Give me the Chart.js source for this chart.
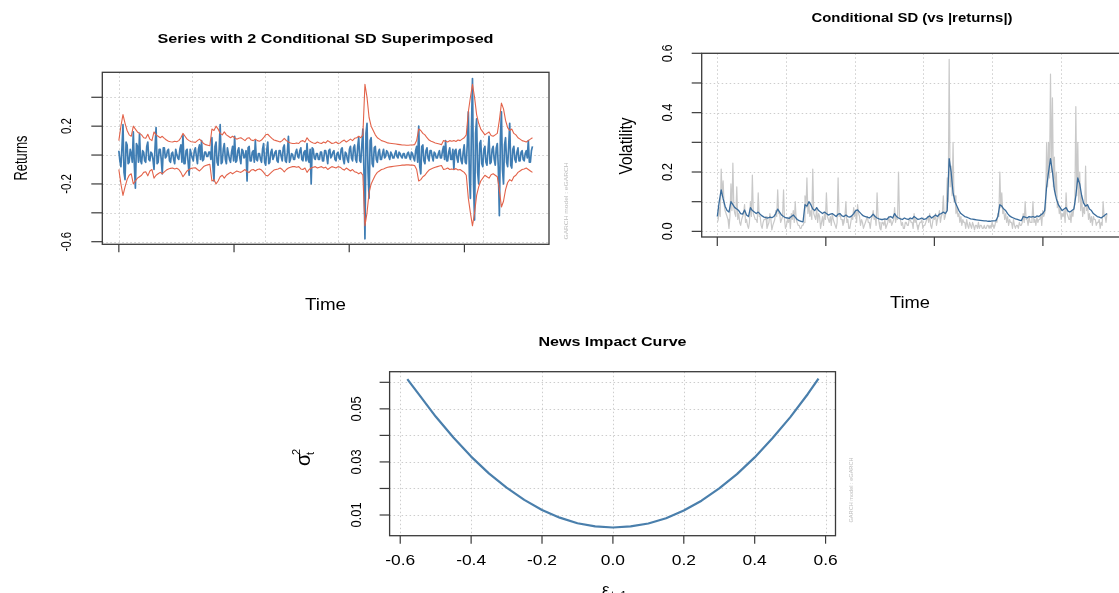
<!DOCTYPE html>
<html>
<head>
<meta charset="utf-8">
<title>eGARCH fit diagnostics</title>
<script src="https://cdn.jsdelivr.net/npm/chart.js@4.4.1/dist/chart.umd.min.js"></script>
<style>
  html, body { margin: 0; padding: 0; background: #fff; overflow: hidden; }
  body { width: 1119px; height: 593px; position: relative; }
  canvas { position: absolute; left: 0; top: 0; }
</style>
</head>
<body>
<canvas id="seriesChart" width="1130" height="593"></canvas>
<canvas id="volChart" width="1130" height="593"></canvas>
<canvas id="nicChart" width="1130" height="593"></canvas>
<script>
const FONT = '"Liberation Sans", Arial, Helvetica, sans-serif';

// Conditional sigma of the fitted eGARCH, sampled every second observation
const sigma = [
    0.05, 0.10, 0.14, 0.11, 0.085, 0.07, 0.065, 0.10, 0.09, 0.08,
    0.075, 0.07, 0.06, 0.058, 0.072, 0.055, 0.05, 0.08, 0.07, 0.065,
    0.06, 0.065, 0.058, 0.052, 0.048, 0.046, 0.045, 0.048, 0.046, 0.05,
    0.06, 0.075, 0.065, 0.055, 0.05, 0.046, 0.045, 0.044, 0.05, 0.055,
    0.048, 0.04, 0.036, 0.034, 0.032, 0.09, 0.085, 0.10, 0.09, 0.075,
    0.07, 0.08, 0.07, 0.065, 0.06, 0.065, 0.06, 0.055, 0.058, 0.06,
    0.055, 0.05, 0.058, 0.06, 0.052, 0.05, 0.055, 0.05, 0.048, 0.052,
    0.06, 0.07, 0.072, 0.065, 0.058, 0.052, 0.05, 0.048, 0.045, 0.05,
    0.058, 0.05, 0.045, 0.042, 0.04, 0.04, 0.042, 0.04, 0.048, 0.05,
    0.045, 0.06, 0.05, 0.045, 0.042, 0.04, 0.045, 0.042, 0.04, 0.045,
    0.042, 0.05, 0.045, 0.04, 0.042, 0.045, 0.04, 0.042, 0.048, 0.052,
    0.045, 0.05, 0.055, 0.05, 0.058, 0.06, 0.065, 0.06, 0.07, 0.245,
    0.20, 0.13, 0.10, 0.085, 0.07, 0.06, 0.055, 0.05, 0.048, 0.045,
    0.042, 0.041, 0.04, 0.039, 0.038, 0.037, 0.036, 0.035, 0.035, 0.034,
    0.034, 0.035, 0.035, 0.036, 0.05, 0.09, 0.085, 0.075, 0.07, 0.06,
    0.052, 0.048, 0.045, 0.042, 0.04, 0.038, 0.036, 0.05, 0.048, 0.045,
    0.05, 0.048, 0.05, 0.047, 0.052, 0.05, 0.055, 0.06, 0.07, 0.15,
    0.20, 0.245, 0.20, 0.14, 0.11, 0.09, 0.08, 0.07, 0.075, 0.08,
    0.068, 0.065, 0.07, 0.075, 0.12, 0.18, 0.16, 0.12, 0.095, 0.085,
    0.09, 0.075, 0.07, 0.06, 0.055, 0.05, 0.048, 0.045, 0.05, 0.055,
    0.06
];

// Log returns, one per observation
const returns = [
    0.03, -0.04, -0.08, 0.05, 0.21, -0.12, -0.17, 0.09, 0.07, -0.06, -0.05, 0.04, 0.01, -0.05, 0.16, -0.07, -0.23, 0.08, 0.06, -0.05,
    0.15, -0.04, -0.06, 0.03, 0.02, -0.04, -0.05, 0.06, 0.09, -0.03, -0.04, 0.02, 0.01, -0.03, -0.1, 0.05, 0.19, -0.06, -0.05, 0.04,
    0.04, -0.03, -0.13, 0.05, 0.05, -0.02, -0.01, 0.03, 0.04, -0.04, -0.05, 0.01, 0.02, -0.03, -0.06, 0.04, 0.005, -0.02, -0.03, 0.04,
    0.07, -0.05, 0.14, -0.06, -0.06, 0.03, 0.04, -0.05, -0.14, 0.04, 0.01, -0.02, -0.04, 0.03, 0.05, -0.01, -0.06, 0.04, 0.07, -0.03,
    0.1, -0.04, -0.03, 0.02, 0.02, -0.01, -0.01, 0.02, 0.02, -0.03, 0.12, -0.08, -0.18, 0.06, 0.09, -0.05, -0.07, 0.04, 0.21, -0.06,
    -0.05, 0.04, 0.08, -0.03, -0.06, 0.05, 0.01, -0.03, -0.05, 0.02, 0.06, -0.04, 0.13, -0.05, -0.04, 0.03, 0.05, -0.02, -0.06, 0.04,
    0.03, -0.02, -0.01, 0.03, -0.18, 0.05, 0.06, -0.04, -0.04, 0.02, 0.03, -0.05, 0.1, -0.03, -0.04, 0.01, 0.01, -0.03, -0.05, 0.04,
    0.08, -0.05, -0.07, 0.03, 0.09, -0.06, -0.05, 0.02, 0.04, -0.03, -0.01, 0.02, 0.03, -0.04, -0.05, 0.03, 0.03, -0.01, -0.04, 0.05,
    0.07, -0.04, -0.05, 0.02, 0.13, -0.05, -0.03, 0.01, 0.005, -0.03, -0.03, 0.02, 0.04, -0.01, -0.02, 0.03, 0.05, -0.03, -0.04, 0.02,
    0.03, -0.04, 0.08, -0.03, -0.05, 0.04, -0.2, 0.05, 0.04, -0.02, -0.03, 0.01, 0.01, -0.03, -0.03, 0.02, 0.02, -0.04, -0.04, 0.03,
    0.03, -0.01, -0.06, 0.03, 0.04, -0.02, -0.005, 0.02, 0.03, -0.03, -0.04, 0.01, 0.02, -0.02, -0.03, 0.04, 0.05, -0.03, -0.06, 0.02,
    0.01, -0.03, -0.05, 0.04, 0.06, -0.02, -0.04, 0.05, 0.07, -0.03, -0.05, 0.06, 0.12, -0.04, -0.05, 0.07, 0.18, -0.1, -0.58, 0.15,
    0.22, -0.12, -0.3, 0.1, 0.12, -0.06, -0.08, 0.05, 0.06, -0.03, -0.05, 0.02, 0.04, -0.03, -0.03, 0.01, 0.04, -0.02, -0.01, 0.03,
    0.02, -0.01, -0.03, 0.02, 0.005, -0.02, -0.02, 0.01, 0.03, -0.01, -0.02, 0.02, 0.01, -0.01, -0.02, 0.01, 0.01, -0.02, -0.02, 0.01,
    0.02, -0.01, -0.03, 0.02, 0.01, -0.02, -0.04, 0.03, 0.06, -0.05, 0.2, -0.08, -0.13, 0.06, 0.07, -0.04, -0.06, 0.03, 0.05, -0.02,
    -0.04, 0.03, 0.03, -0.01, -0.04, 0.02, 0.01, -0.02, -0.02, 0.01, 0.03, -0.02, -0.02, 0.03, 0.06, -0.03, 0.1, -0.04, -0.04, 0.02,
    0.05, -0.03, -0.03, 0.04, -0.1, 0.03, 0.04, -0.02, -0.05, 0.03, 0.04, -0.04, -0.06, 0.02, 0.07, -0.05, -0.06, 0.08, 0.3, -0.15,
    -0.3, 0.18, 0.53, -0.2, -0.45, 0.15, 0.25, -0.12, -0.2, 0.08, 0.1, -0.06, -0.08, 0.04, 0.06, -0.05, -0.07, 0.03, 0.13, -0.06,
    -0.05, 0.04, 0.06, -0.03, -0.07, 0.05, 0.08, -0.09, -0.42, 0.12, 0.3, -0.1, -0.2, 0.07, 0.12, -0.05, -0.08, 0.06, 0.22, -0.07,
    -0.09, 0.04, 0.06, -0.03, -0.05, 0.02, 0.05, -0.04, -0.04, 0.02, 0.03, -0.03, -0.04, 0.01, 0.03, -0.02, 0.1, -0.05, -0.05, 0.03,
    0.06
];

const days = returns.map((_, i) => i);
const sigmaDays = sigma.map((_, i) => 2 * i);

// Time axis: tick marks at year starts, dotted grid in between
const yearTicks = [0, 111.4, 222.8, 334.2];
const timeGrid = [0, 70.52, 141.04, 211.56, 282.08, 352.6];

const returnTicks = [-0.6, -0.4, -0.2, 0, 0.2, 0.4];
const returnTickLabels = ['-0.6', null, '-0.2', null, '0.2', null];

const volTicks = [0, 0.1, 0.2, 0.3, 0.4, 0.5, 0.6];
const volTickLabels = ['0.0', null, '0.2', null, '0.4', null, '0.6'];

// News impact curve: sigma^2 against the lagged shock
const nicEps = [
    -0.58, -0.55, -0.5, -0.45, -0.4, -0.35, -0.3, -0.25, -0.2, -0.15, -0.1, -0.05,
    0, 0.05, 0.1, 0.15, 0.2, 0.25, 0.3, 0.35, 0.4, 0.45, 0.5, 0.55, 0.58
];
const nicSigma2 = [
    0.0612, 0.0559, 0.0471, 0.0392, 0.0320, 0.0257, 0.0203, 0.0157, 0.0119, 0.0090, 0.0069, 0.0057,
    0.0053, 0.0057, 0.0068, 0.0088, 0.0117, 0.0154, 0.0200, 0.0254, 0.0317, 0.0389, 0.0468, 0.0556, 0.0614
];
const nicXTicks = [-0.6, -0.4, -0.2, 0, 0.2, 0.4, 0.6];
const nicXTickLabels = ['-0.6', '-0.4', '-0.2', '0.0', '0.2', '0.4', '0.6'];
const nicYTicks = [0.01, 0.02, 0.03, 0.04, 0.05, 0.06];
const nicYTickLabels = ['0.01', null, '0.03', null, '0.05', null];

const W = 1130, H = 593;

function drawText(ctx, t) {
    ctx.save();
    ctx.font = (t.bold ? 'bold ' : '') + t.size + 'px ' + FONT;
    ctx.fillStyle = t.color || '#000';
    ctx.textAlign = 'center';
    ctx.textBaseline = 'alphabetic';
    ctx.translate(t.x, t.y);
    if (t.rotate) ctx.rotate(-Math.PI / 2);
    const w = ctx.measureText(t.text).width;
    const k = t.len ? t.len / w : (t.k || 1);
    ctx.scale(k, 1);
    ctx.fillText(t.text, 0, t.size * 0.36);
    ctx.restore();
}

function line(ctx, x1, y1, x2, y2) {
    ctx.beginPath();
    ctx.moveTo(x1, y1);
    ctx.lineTo(x2, y2);
    ctx.stroke();
}

// base-graphics style frame: dotted grid, box, outward ticks, rotated y labels
const rFrame = {
    id: 'rFrame',
    beforeDatasetsDraw(chart, args, o) {
        const { ctx, chartArea: a, scales: { x, y } } = chart;
        ctx.save();
        ctx.strokeStyle = '#cdcdcd';
        ctx.lineWidth = 1;
        ctx.setLineDash([1.5, 2.5]);
        o.gridX.forEach(v => {
            const px = Math.round(x.getPixelForValue(v)) + 0.5;
            line(ctx, px, a.top, px, a.bottom);
        });
        o.gridY.forEach(v => {
            const py = Math.round(y.getPixelForValue(v)) + 0.5;
            line(ctx, a.left, py, a.right, py);
        });
        ctx.restore();
    },
    afterDraw(chart, args, o) {
        const { ctx, chartArea: a, scales: { x, y } } = chart;
        ctx.save();
        ctx.strokeStyle = '#3a3a3a';
        ctx.lineWidth = 1.3;
        ctx.strokeRect(a.left, a.top, a.right - a.left, a.bottom - a.top);

        ctx.lineWidth = 1.2;
        o.xTicks.forEach(v => {
            const px = x.getPixelForValue(v);
            line(ctx, px, a.bottom, px, a.bottom + o.tickLenX);
        });
        o.yTicks.forEach(v => {
            const py = y.getPixelForValue(v);
            line(ctx, a.left, py, a.left - o.tickLenY, py);
        });
        ctx.restore();

        if (o.xTickLabels) {
            o.xTicks.forEach((v, i) => {
                if (!o.xTickLabels[i]) return;
                drawText(ctx, { text: o.xTickLabels[i], x: x.getPixelForValue(v), y: o.xLabelY, size: o.tickSize, k: o.xLabelK });
            });
        }
        o.yTicks.forEach((v, i) => {
            if (!o.yTickLabels[i]) return;
            drawText(ctx, { text: o.yTickLabels[i], x: o.yLabelX, y: y.getPixelForValue(v), size: o.tickSize, k: o.yLabelK, rotate: true });
        });

        o.texts.forEach(t => drawText(ctx, t));
        if (o.extra) o.extra(ctx);
    }
};

function makeChart(id, datasets, box, xRange, yRange, frame) {
    return new Chart(document.getElementById(id), {
        type: 'line',
        data: { datasets },
        options: {
            responsive: false,
            animation: false,
            devicePixelRatio: 1,
            events: [],
            layout: {
                padding: { left: box.left, top: box.top, right: W - box.right, bottom: H - box.bottom }
            },
            scales: {
                x: { type: 'linear', display: false, min: xRange[0], max: xRange[1] },
                y: { type: 'linear', display: false, min: yRange[0], max: yRange[1] }
            },
            elements: {
                point: { radius: 0 },
                line: { tension: 0, borderJoinStyle: 'round' }
            },
            plugins: {
                legend: { display: false },
                tooltip: { enabled: false },
                rFrame: frame
            }
        },
        plugins: [rFrame]
    });
}

const pts = (ys, xs) => ys.map((v, i) => ({ x: xs[i], y: v }));
const watermark = 'GARCH model : eGARCH';

// 1. returns with +/- 2 conditional SD bands
makeChart('seriesChart', [
    { data: pts(sigma.map(s => 2 * s), sigmaDays), borderColor: '#e3634a', borderWidth: 1.1 },
    { data: pts(sigma.map(s => -2 * s), sigmaDays), borderColor: '#e3634a', borderWidth: 1.1 },
    { data: pts(returns, days), borderColor: '#3f7db3', borderWidth: 1.7 }
], { left: 102.3, top: 72.3, right: 549, bottom: 244.3 }, [-16, 416], [-0.618, 0.573], {
    gridX: timeGrid, gridY: returnTicks,
    xTicks: yearTicks, yTicks: returnTicks, yTickLabels: returnTickLabels,
    tickLenX: 8, tickLenY: 11, tickSize: 15, yLabelX: 65.5, yLabelK: 0.76,
    texts: [
        { text: 'Series with 2 Conditional SD Superimposed', x: 325.5, y: 39, size: 12, bold: true, len: 336 },
        { text: 'Returns', x: 20.5, y: 158, size: 18, len: 45, rotate: true },
        { text: 'Time', x: 325.5, y: 304, size: 16, len: 41 },
        { text: watermark, x: 566, y: 201, size: 6, len: 77, rotate: true, color: '#bdbdbd' }
    ]
});

// 2. conditional SD against absolute returns
makeChart('volChart', [
    { data: pts(sigma, sigmaDays), borderColor: '#3a6c9c', borderWidth: 1.3 },
    { data: pts(returns.map(r => Math.abs(r)), days), borderColor: '#c9c9c9', borderWidth: 1.2 }
], { left: 701.7, top: 53.3, right: 1122.6, bottom: 237 }, [-16, 416], [-0.019, 0.6], {
    gridX: timeGrid, gridY: volTicks,
    xTicks: yearTicks, yTicks: volTicks, yTickLabels: volTickLabels,
    tickLenX: 9, tickLenY: 10, tickSize: 15, yLabelX: 666.5, yLabelK: 0.86,
    texts: [
        { text: 'Conditional SD (vs |returns|)', x: 912, y: 18, size: 12, bold: true, len: 201 },
        { text: 'Volatility', x: 626, y: 146, size: 18, len: 57, rotate: true },
        { text: 'Time', x: 910, y: 302.5, size: 16, len: 40 }
    ]
});

// 3. news impact curve
makeChart('nicChart', [
    { data: pts(nicSigma2, nicEps), borderColor: '#4a7fac', borderWidth: 2.2 }
], { left: 389.6, top: 371.7, right: 835.5, bottom: 535.7 }, [-0.63, 0.628], [0.0022, 0.064], {
    gridX: nicXTicks, gridY: nicYTicks,
    xTicks: nicXTicks, xTickLabels: nicXTickLabels, yTicks: nicYTicks, yTickLabels: nicYTickLabels,
    tickLenX: 8, tickLenY: 10, tickSize: 15, xLabelY: 560, xLabelK: 1.16, yLabelX: 356, yLabelK: 0.86,
    texts: [
        { text: 'News Impact Curve', x: 612.5, y: 341.5, size: 12, bold: true, len: 148 },
        { text: watermark, x: 851, y: 490, size: 6, len: 65, rotate: true, color: '#bdbdbd' }
    ],
    extra(ctx) {
        ctx.save();
        ctx.fillStyle = '#000';
        // y label: sigma_t^2, rotated
        ctx.translate(304, 458);
        ctx.rotate(-Math.PI / 2);
        ctx.font = '20px ' + FONT;
        ctx.textAlign = 'left';
        ctx.fillText('σ', -8, 6);
        ctx.font = '11px ' + FONT;
        ctx.fillText('t', 3, 10);
        ctx.fillText('2', 3, -4);
        ctx.restore();

        // x label: epsilon_{t-1}
        ctx.save();
        ctx.fillStyle = '#000';
        ctx.textAlign = 'left';
        ctx.font = '17px ' + FONT;
        ctx.fillText('ε', 602, 595);
        ctx.font = '11px ' + FONT;
        ctx.fillText('t\u22121', 611, 599);
        ctx.restore();
    }
});
</script>
</body>
</html>
